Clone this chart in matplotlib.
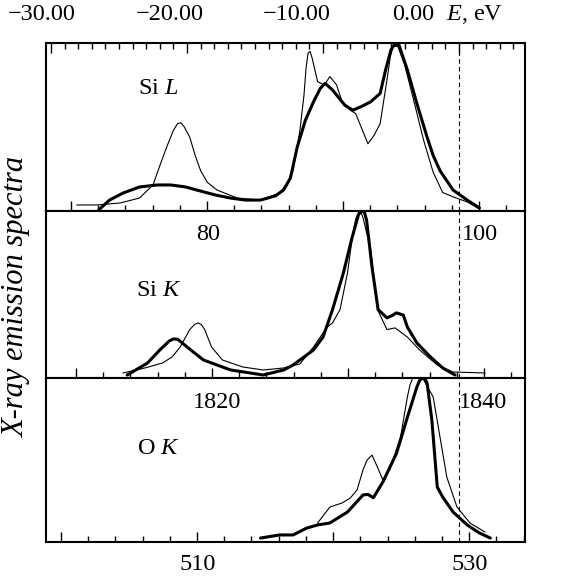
import numpy as np
import matplotlib
matplotlib.use("Agg")
import matplotlib.pyplot as plt

plt.rcParams["font.family"] = ["Liberation Serif", "DejaVu Serif"]
plt.rcParams["mathtext.fontset"] = "custom"
plt.rcParams["mathtext.rm"] = "Liberation Serif"
plt.rcParams["mathtext.it"] = "Liberation Serif:italic"

# energy relative to the valence band top, E (eV), and normalised intensity
sil_thin_e = [-28.1, -26.6, -24.9, -23.5, -22.5, -22.0, -21.5, -21.0, -20.7, -20.45, -20.2, -19.8,
              -19.4, -19.0, -18.5, -17.8, -16.3, -14.6, -13.2, -12.6, -12.2, -11.7, -11.4, -11.25,
              -11.1, -10.95, -10.8, -10.4, -9.9, -9.5, -9.0, -8.6, -8.0, -7.6, -7.1, -6.7, -6.25,
              -5.8, -5.3, -5.05, -4.85, -4.5, -4.0, -3.4, -2.6, -1.9, -1.2, -0.4, 0.6, 1.5]
sil_thin_i = [0.036, 0.036, 0.048, 0.077, 0.155, 0.27, 0.38, 0.48, 0.52, 0.525, 0.50, 0.44,
              0.33, 0.24, 0.17, 0.125, 0.077, 0.065, 0.107, 0.17, 0.24, 0.48, 0.69, 0.85,
              0.94, 0.95, 0.91, 0.77, 0.75, 0.80, 0.75, 0.65, 0.60, 0.58, 0.48, 0.40, 0.45,
              0.52, 0.78, 0.92, 0.98, 0.98, 0.87, 0.68, 0.42, 0.23, 0.11, 0.083, 0.054, 0.012]
sil_thick_e = [-26.5, -25.7, -24.7, -23.5, -22.2, -21.2, -20.1, -19.3, -17.9, -16.8, -15.7, -14.6,
               -13.5, -12.9, -12.4, -11.9, -11.3, -10.7, -10.2, -9.85, -9.3, -8.9, -8.4, -7.8,
               -7.1, -6.5, -5.8, -5.4, -5.0, -4.8, -4.6, -4.4, -4.3, -3.8, -3.1, -2.35, -1.9,
               -1.4, -0.44, 0.6, 1.5]
sil_thick_i = [0.006, 0.065, 0.107, 0.143, 0.155, 0.155, 0.143, 0.125, 0.095, 0.077, 0.065, 0.065,
               0.09, 0.125, 0.196, 0.38, 0.54, 0.65, 0.73, 0.76, 0.72, 0.68, 0.63, 0.60,
               0.625, 0.65, 0.70, 0.84, 0.96, 0.985, 0.994, 0.985, 0.96, 0.84, 0.64, 0.44, 0.33,
               0.24, 0.125, 0.065, 0.018]

sik_thin_e = [-24.7, -23.1, -21.8, -21.1, -20.5, -19.8, -19.45, -19.2, -18.95, -18.7, -18.2, -17.4,
              -15.9, -14.4, -12.9, -11.7, -10.7, -9.7, -9.3, -8.75, -8.2, -7.8, -7.6, -7.4, -7.2,
              -7.06, -6.5, -6.0, -5.3, -4.7, -3.8, -2.9, -1.6, -0.44, 1.9]
sik_thin_i = [0.03, 0.06, 0.09, 0.126, 0.186, 0.29, 0.32, 0.33, 0.32, 0.29, 0.186, 0.108,
              0.066, 0.048, 0.06, 0.084, 0.186, 0.305, 0.33, 0.41, 0.63, 0.87, 0.95, 0.99, 0.99,
              0.96, 0.77, 0.41, 0.29, 0.30, 0.245, 0.168, 0.078, 0.036, 0.03]
sik_thick_e = [-24.4, -22.9, -22.0, -21.3, -21.0, -20.7, -20.5, -20.0, -18.8, -16.8, -14.4, -12.9,
               -12.2, -10.7, -10.0, -9.3, -8.5, -7.9, -7.4, -7.25, -7.1, -6.95, -6.8, -6.4, -5.95,
               -5.3, -4.9, -4.6, -4.1, -3.8, -3.1, -2.1, -1.2, -0.3]
sik_thick_i = [0.018, 0.09, 0.168, 0.222, 0.234, 0.232, 0.22, 0.186, 0.108, 0.048, 0.018, 0.048,
               0.078, 0.168, 0.245, 0.41, 0.63, 0.83, 0.976, 0.995, 1.0, 0.99, 0.946, 0.665, 0.41,
               0.36, 0.375, 0.39, 0.377, 0.305, 0.21, 0.126, 0.06, 0.018]

ok_thin_e = [-10.4, -9.9, -9.5, -8.6, -8.0, -7.5, -7.06, -6.76, -6.4, -6.0, -5.6, -5.1, -4.3,
             -3.8, -3.6, -3.4, -3.0, -2.6, -1.9, -1.4, -0.9, -0.15, 0.8, 1.9]
ok_thin_i = [0.116, 0.17, 0.213, 0.238, 0.268, 0.317, 0.44, 0.50, 0.53, 0.457, 0.378, 0.44, 0.64,
             0.884, 0.96, 1.0, 1.0, 0.988, 0.884, 0.64, 0.396, 0.213, 0.116, 0.061]
ok_thick_e = [-14.6, -13.2, -12.2, -11.2, -10.4, -9.5, -8.2, -7.06, -6.7, -6.3, -5.6, -4.6, -3.8,
              -3.1, -2.9, -2.7, -2.5, -2.35, -2.0, -1.6, -1.2, -0.44, 0.6, 1.5, 2.3]
ok_thick_i = [0.024, 0.043, 0.043, 0.085, 0.104, 0.116, 0.183, 0.287, 0.29, 0.27, 0.366, 0.54,
              0.76, 0.945, 0.985, 1.0, 0.995, 0.97, 0.744, 0.335, 0.274, 0.183, 0.104, 0.055, 0.024]

# emission energy scales: emission energy = E + offset
sil_offset = 98.53
sik_offset = 1838.16
ok_offset = 529.26

W, H = 566, 577


def fx(x):
    return x / W


def fy(y):
    return 1 - y / H


fig = plt.figure(figsize=(W / 100, H / 100), dpi=100)
fig.patch.set_facecolor("white")

left, right = 46, 525
rows = [(43, 211), (211, 378), (378, 542)]
axes = []
for top, bot in rows:
    ax = fig.add_axes([fx(left), fy(bot), (right - left) / W, (bot - top) / H])
    ax.set_xlim(-30.37, 4.85)
    ax.set_ylim(0, 1.0)
    ax.set_yticks([])
    for sp in ax.spines.values():
        sp.set_linewidth(1.5)
    ax.axvline(0, color="black", lw=0.8, ls=(0, (4, 3)))
    axes.append(ax)

panels = [
    (sil_thin_e, sil_thin_i, sil_thick_e, sil_thick_i, sil_offset, 70, 104),
    (sik_thin_e, sik_thin_i, sik_thick_e, sik_thick_i, sik_offset, 1810, 1844),
    (ok_thin_e, ok_thin_i, ok_thick_e, ok_thick_i, ok_offset, 500, 534),
]
for ax, (te, ti, ke, ki, off, s0, s1) in zip(axes, panels):
    ax.plot(te, ti, color="black", lw=0.8, solid_joinstyle="round")
    ax.plot(ke, ki, color="black", lw=2.2, solid_joinstyle="round", solid_capstyle="round")
    minor = np.arange(s0, s1 + 1, 2) - off
    major = np.arange(np.ceil(s0 / 10) * 10, s1 + 1, 10) - off
    ax.set_xticks(major)
    ax.set_xticks(minor, minor=True)
    ax.tick_params(axis="x", which="both", direction="in", bottom=True, top=False,
                   labelbottom=False, width=1.0)
    ax.tick_params(axis="x", which="major", length=7)
    ax.tick_params(axis="x", which="minor", length=4)
    ax.set_xlim(-30.37, 4.85)

# E scale ticks along the top of the upper panel
top_ax = axes[0].secondary_xaxis("top")
top_ax.set_xticks(np.arange(-30, 1, 10))
top_ax.set_xticks(np.arange(-30, 5, 1), minor=True)
top_ax.tick_params(axis="x", which="both", direction="in", labeltop=False, width=1.0)
top_ax.tick_params(axis="x", which="major", length=7)
top_ax.tick_params(axis="x", which="minor", length=4)
top_ax.spines["top"].set_visible(False)

fs = 17.5
for lab, x in [("\u221230.00", 42), ("\u221220.00", 170), ("\u221210.00", 297), ("0.00", 413)]:
    fig.text(fx(x), fy(15), lab, ha="center", va="center", fontsize=fs)
fig.text(fx(446), fy(15), r"$E$, eV", ha="left", va="center", fontsize=fs)

fig.text(fx(158), fy(89), r"Si $L$", ha="center", va="center", fontsize=fs)
fig.text(fx(159), fy(291), r"Si $K$", ha="center", va="center", fontsize=fs)
fig.text(fx(158), fy(449), r"O $K$", ha="center", va="center", fontsize=fs)

fig.text(fx(208), fy(234), "80", ha="center", va="center", fontsize=fs)
fig.text(fx(462), fy(234), "100", ha="left", va="center", fontsize=fs)
fig.text(fx(217), fy(402), "1820", ha="center", va="center", fontsize=fs)
fig.text(fx(459), fy(402), "1840", ha="left", va="center", fontsize=fs)
fig.text(fx(198), fy(564), "510", ha="center", va="center", fontsize=fs)
fig.text(fx(470), fy(564), "530", ha="center", va="center", fontsize=fs)

fig.text(fx(17), fy(297), "X-ray emission spectra", rotation=90, ha="center", va="center",
         fontsize=22, style="italic")

fig.savefig("out.png", dpi=100, facecolor="white")
